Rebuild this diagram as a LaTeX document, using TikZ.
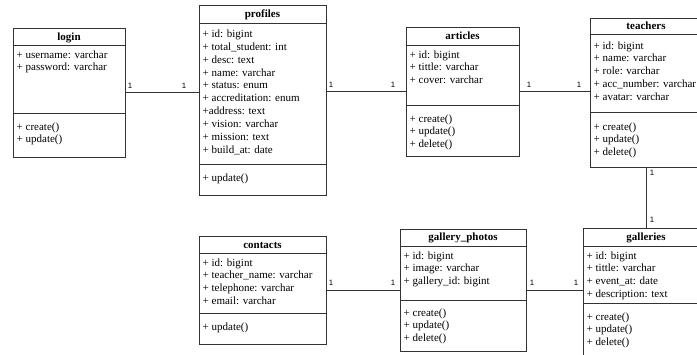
\documentclass[tikz,border=0pt]{standalone}
\usepackage{fontspec}
\setmainfont{Liberation Serif}
\newfontfamily\lblfont{Liberation Sans}
\newcommand\mklist[1]{\begin{tabular}[t]{@{}l@{}}#1\end{tabular}}
\begin{document}
\begin{tikzpicture}[x=1pt,y=-1pt,
  classbox/.style={draw=black!80, line width=0.8pt, anchor=north west, inner sep=0pt, outer sep=0pt},
  divline/.style={draw=black!80, line width=0.8pt},
  conn/.style={draw=black!80, line width=0.8pt},
  ttl/.style={anchor=base, inner sep=0pt, font=\fontsize{11}{12.85}\selectfont\bfseries},
  txt/.style={anchor=base west, inner sep=0pt, xshift=3.5pt, font=\fontsize{11}{12.85}\selectfont},
  lbl/.style={inner sep=0pt, font=\lblfont\fontsize{7.8}{9}\selectfont}]
\useasboundingbox (0,0) rectangle (697,354);

% login
\node[classbox, minimum width=112pt, minimum height=129pt] (login) at (13,28) {};
\draw[divline] (login.west |- 0,45) -- (login.east |- 0,45);
\draw[divline] (login.west |- 0,113) -- (login.east |- 0,113);
\node[ttl] (login-t) at (login.north |- 0,40) {login};
\node[txt] (login-a) at (login.west |- 0,58) {\mklist{+ username: varchar\\+ password: varchar}};
\node[txt] (login-m) at (login.west |- 0,130) {\mklist{+ create()\\+ update()}};

% profiles
\node[classbox, minimum width=127pt, minimum height=190pt] (profiles) at (199,5) {};
\draw[divline] (profiles.west |- 0,23) -- (profiles.east |- 0,23);
\draw[divline] (profiles.west |- 0,164) -- (profiles.east |- 0,164);
\node[ttl] (profiles-t) at (profiles.north |- 0,17.5) {profiles};
\node[txt] (profiles-a) at (profiles.west |- 0,37.5) {\mklist{+ id: bigint\\+ total\_student: int\\+ desc: text\\+ name: varchar\\+ status: enum\\+ accreditation: enum\\+address: text\\+ vision: varchar\\+ mission: text\\+ build\_at: date}};
\node[txt] (profiles-m) at (profiles.west |- 0,181) {\mklist{+ update()}};

% articles
\node[classbox, minimum width=113pt, minimum height=129pt] (articles) at (406,27) {};
\draw[divline] (articles.west |- 0,45) -- (articles.east |- 0,45);
\draw[divline] (articles.west |- 0,105) -- (articles.east |- 0,105);
\node[ttl] (articles-t) at (articles.north |- 0,39.5) {articles};
\node[txt] (articles-a) at (articles.west |- 0,58) {\mklist{+ id: bigint\\+ tittle: varchar\\+ cover: varchar}};
\node[txt] (articles-m) at (articles.west |- 0,122) {\mklist{+ create()\\+ update()\\+ delete()}};

% teachers
\node[classbox, minimum width=112pt, minimum height=149pt] (teachers) at (590,18) {};
\draw[divline] (teachers.west |- 0,34.5) -- (teachers.east |- 0,34.5);
\draw[divline] (teachers.west |- 0,112) -- (teachers.east |- 0,112);
\node[ttl] (teachers-t) at (teachers.north |- 0,29.5) {teachers};
\node[txt] (teachers-a) at (teachers.west |- 0,49) {\mklist{+ id: bigint\\+ name: varchar\\+ role: varchar\\+ acc\_number: varchar\\+ avatar: varchar}};
\node[txt] (teachers-m) at (teachers.west |- 0,130) {\mklist{+ create()\\+ update()\\+ delete()}};

% galleries
\node[classbox, minimum width=126pt, minimum height=140pt] (galleries) at (583,228) {};
\draw[divline] (galleries.west |- 0,246) -- (galleries.east |- 0,246);
\draw[divline] (galleries.west |- 0,303) -- (galleries.east |- 0,303);
\node[ttl] (galleries-t) at (galleries.north |- 0,240.5) {galleries};
\node[txt] (galleries-a) at (galleries.west |- 0,259) {\mklist{+ id: bigint\\+ tittle: varchar\\+ event\_at: date\\+ description: text}};
\node[txt] (galleries-m) at (galleries.west |- 0,320) {\mklist{+ create()\\+ update()\\+ delete()}};

% contacts
\node[classbox, minimum width=127pt, minimum height=108pt] (contacts) at (199,236) {};
\draw[divline] (contacts.west |- 0,253) -- (contacts.east |- 0,253);
\draw[divline] (contacts.west |- 0,313) -- (contacts.east |- 0,313);
\node[ttl] (contacts-t) at (contacts.north |- 0,248.5) {contacts};
\node[txt] (contacts-a) at (contacts.west |- 0,266) {\mklist{+ id: bigint\\+ teacher\_name: varchar\\+ telephone: varchar\\+ email: varchar}};
\node[txt] (contacts-m) at (contacts.west |- 0,330) {\mklist{+ update()}};

% gallery_photos
\node[classbox, minimum width=126pt, minimum height=122pt] (photos) at (400,229) {};
\draw[divline] (photos.west |- 0,246) -- (photos.east |- 0,246);
\draw[divline] (photos.west |- 0,300) -- (photos.east |- 0,300);
\node[ttl] (photos-t) at (photos.north |- 0,240.5) {gallery\_photos};
\node[txt] (photos-a) at (photos.west |- 0,259) {\mklist{+ id: bigint\\+ image: varchar\\+ gallery\_id: bigint}};
\node[txt] (photos-m) at (photos.west |- 0,316) {\mklist{+ create()\\+ update()\\+ delete()}};

% connectors
\draw[conn] (login.east) -- (login.east -| profiles.west);
\node[lbl] (c1a) at ([xshift=5pt,yshift=7pt]login.east) {1};
\node[lbl] (c1b) at ([xshift=-15pt,yshift=7pt]login.east -| profiles.west) {1};

\draw[conn] (articles.west -| profiles.east) -- (articles.west);
\node[lbl] (c2a) at ([xshift=5pt,yshift=7pt]articles.west -| profiles.east) {1};
\node[lbl] (c2b) at ([xshift=-13pt,yshift=7pt]articles.west) {1};

\draw[conn] (articles.east) -- (articles.east -| teachers.west);
\node[lbl] (c3a) at ([xshift=10pt,yshift=7pt]articles.east) {1};
\node[lbl] (c3b) at ([xshift=-11pt,yshift=7pt]articles.east -| teachers.west) {1};

\draw[conn] (teachers.south) -- (teachers.south |- galleries.north);
\node[lbl] (c4a) at ([xshift=6pt,yshift=-6pt]teachers.south) {1};
\node[lbl] (c4b) at ([xshift=6pt,yshift=8pt]teachers.south |- galleries.north) {1};

\draw[conn] (contacts.east) -- (contacts.east -| photos.west);
\node[lbl] (c5a) at ([xshift=5pt,yshift=7pt]contacts.east) {1};
\node[lbl] (c5b) at ([xshift=-7pt,yshift=7pt]contacts.east -| photos.west) {1};

\draw[conn] (photos.east) -- (photos.east -| galleries.west);
\node[lbl] (c6a) at ([xshift=6pt,yshift=7pt]photos.east) {1};
\node[lbl] (c6b) at ([xshift=-7pt,yshift=7pt]photos.east -| galleries.west) {1};
\end{tikzpicture}
\end{document}
